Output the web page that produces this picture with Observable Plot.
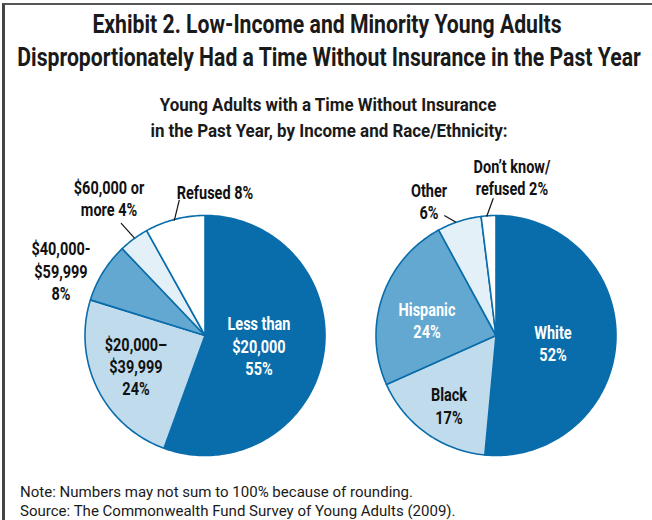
<!DOCTYPE html>
<html>
<head>
<meta charset="utf-8">
<script src="https://cdn.jsdelivr.net/npm/d3@7"></script>
<script src="https://cdn.jsdelivr.net/npm/@observablehq/plot@0.6"></script>
<style>
  html, body { margin: 0; padding: 0; background: #fff; }
  body { width: 652px; height: 520px; position: relative; overflow: hidden; }
  #frame { position: absolute; left: 2px; top: 3px; width: 660px; height: 530px;
           border-left: 3px solid #444; border-top: 2px solid #555; }
  .t { position: absolute; white-space: nowrap; color: #1a1a1a;
       font-family: Roboto, 'Liberation Sans', sans-serif; }
  .b { font-weight: bold; }
  #chart { position: absolute; left: 0; top: 145px; }
</style>
</head>
<body>
<div id="frame"></div>
<div id="title1" class="t b">Exhibit 2. Low-Income and Minority Young Adults</div>
<div id="title2" class="t b">Disproportionately Had a Time Without Insurance in the Past Year</div>
<div id="sub1" class="t b">Young Adults with a Time Without Insurance</div>
<div id="sub2" class="t b">in the Past Year, by Income and Race/Ethnicity:</div>
<div id="chart"></div>
<div id="note1" class="t">Note: Numbers may not sum to 100% because of rounding.</div>
<div id="note2" class="t">Source: The Commonwealth Fund Survey of Young Adults (2009).</div>
<script>
// ---------------- data ----------------
const groups = ["income", "race"];
const incomeCategories = ["Less than $20,000", "$20,000–$39,999", "$40,000–$59,999", "$60,000 or more", "Refused"];
const incomeValues = [55, 24, 8, 4, 8];
const incomeTexts = ["Less than\n$20,000\n55%", "$20,000–\n$39,999\n24%", "$40,000-\n$59,999\n8%", "$60,000 or\nmore 4%", "Refused 8%"];
const raceCategories = ["White", "Black", "Hispanic", "Other", "Don’t know/refused"];
const raceValues = [52, 17, 24, 6, 2];
const raceTexts = ["White\n52%", "Black\n17%", "Hispanic\n24%", "Other\n6%", "Don’t know/\nrefused 2%"];

// ---------------- styles / layout ----------------
const FONT = "Roboto, 'Liberation Sans', sans-serif";
const sliceColors = ["#0a6dab", "#c0dcec", "#63a8d0", "#e3f0f8", "#ffffff"];
const edgeColor = "#0a6dab";
// label anchor positions, in pie-radius units relative to each pie centre
const labelLayout = {
  income: [[0.45, -0.083, "#fff"], [-0.575, -0.254, "#111"], [-1.2, 0.542, "#111"], [-0.8, 1.15, "#111"], [0.083, 1.2, "#111"]],
  race:   [[0.475, -0.0625, "#fff"], [-0.392, -0.583, "#111"], [-0.575, 0.133, "#fff"], [-0.558, 1.125, "#111"], [0.133, 1.325, "#111"]]
};
const leaderLayout = {
  income: {3: [-0.7, 0.936, -0.589, 0.814], 4: [-0.214, 1.131, -0.256, 0.958]},
  race:   {3: [-0.431, 1.0, -0.333, 0.944], 4: [-0.0225, 1.144, -0.0775, 0.992]}
};

// ---------------- build ----------------
const series = {
  income: incomeCategories.map((c, i) => ({group: "income", category: c, value: incomeValues[i], text: incomeTexts[i]})),
  race: raceCategories.map((c, i) => ({group: "race", category: c, value: raceValues[i], text: raceTexts[i]}))
};

const slicePts = [];
for (const g of groups) {
  const arcs = d3.pie().sort(null).value(d => d.value)(series[g]);
  for (const a of arcs) {
    const key = g + ":" + a.data.category;
    slicePts.push({group: g, key, x: 0, y: 0});
    const n = Math.max(2, Math.ceil((a.endAngle - a.startAngle) / (Math.PI / 180)));
    for (let k = 0; k <= n; k++) {
      const t = a.startAngle + (a.endAngle - a.startAngle) * k / n;
      slicePts.push({group: g, key, x: Math.sin(t), y: Math.cos(t)});
    }
  }
}

const labels = [];
const leaders = [];
for (const g of groups) {
  series[g].forEach((d, i) => {
    const [lx, ly, col] = labelLayout[g][i];
    labels.push({group: g, text: d.text, x: lx, y: ly, color: col});
    const L = leaderLayout[g][i];
    if (L) leaders.push({group: g, x1: L[0], y1: L[1], x2: L[2], y2: L[3]});
  });
}

const ctx = document.createElement("canvas").getContext("2d");
function measure(text, weight, size) {
  ctx.font = `${weight} ${size}px ${FONT}`;
  return ctx.measureText(text).width;
}

const LABEL_SIZE = 19;
const labelScale = 63 / measure("Less than", "bold", LABEL_SIZE);

const W = 652, H = 320, R = 120, cyPx = 190, facetW = 291;
const leftCentre = 204;
const chart = Plot.plot({
  width: W, height: H,
  marginTop: 0, marginBottom: 0,
  marginLeft: leftCentre - facetW / 2,
  marginRight: W - (leftCentre - facetW / 2) - 2 * facetW,
  style: {fontFamily: FONT, background: "transparent", overflow: "visible"},
  fx: {domain: groups, padding: 0, axis: null},
  x: {domain: [-facetW / 2 / R, facetW / 2 / R], axis: null},
  y: {domain: [-(H - cyPx) / R, cyPx / R], axis: null},
  color: {domain: [...incomeCategories, ...raceCategories].map((c, i) => (i < 5 ? "income:" : "race:") + c),
          range: [...sliceColors, ...sliceColors]},
  marks: [
    Plot.line(slicePts, {fx: "group", x: "x", y: "y", z: "key", fill: "key", stroke: edgeColor,
                         strokeWidth: 1.6, strokeLinejoin: "round", curve: "linear-closed"}),
    Plot.link(leaders, {fx: "group", x1: "x1", y1: "y1", x2: "x2", y2: "y2", stroke: "#111", strokeWidth: 1.2}),
    Plot.text(labels.filter(d => d.color === "#fff"), {fx: "group", x: "x", y: "y", text: "text", fill: "#fff",
              fontSize: LABEL_SIZE, fontWeight: "bold", lineHeight: 1.17, fontFamily: FONT}),
    Plot.text(labels.filter(d => d.color !== "#fff"), {fx: "group", x: "x", y: "y", text: "text", fill: "#111",
              fontSize: LABEL_SIZE, fontWeight: "bold", lineHeight: 1.17, fontFamily: FONT})
  ]
});
// narrow the label glyphs horizontally (condensed look of the original)
chart.querySelectorAll("g[aria-label='text'] text").forEach(t => {
  t.setAttribute("transform", (t.getAttribute("transform") || "") + ` scale(${labelScale},1)`);
});
document.getElementById("chart").appendChild(chart);

// ---------------- text fitting / placement ----------------
function place(id, size, weight, cx, cy, target, scaleOverride, leftAligned) {
  const el = document.getElementById(id);
  const lh = Math.round(size * 1.2);
  const k = scaleOverride != null ? scaleOverride : target / measure(el.textContent, weight, size);
  el.style.fontSize = size + "px";
  el.style.lineHeight = lh + "px";
  el.style.top = (cy - lh / 2) + "px";
  el.style.left = cx + "px";
  el.style.transformOrigin = "0 50%";
  el.style.transform = leftAligned ? `scaleX(${k})` : `scaleX(${k}) translateX(-50%)`;
  return k;
}
const TITLE = 25;
const kt = place("title2", TITLE, "bold", 329, 58, 624);
place("title1", TITLE, "bold", 327, 25, null, kt);
const SUB = 18;
const ks = place("sub1", SUB, "bold", 328, 105, 337);
place("sub2", SUB, "bold", 329, 131, null, ks);
const NOTE = 15;
const kn = place("note1", NOTE, "normal", 20, 492, 393, null, true);
place("note2", NOTE, "normal", 20, 511, null, kn, true);
</script>
</body>
</html>
